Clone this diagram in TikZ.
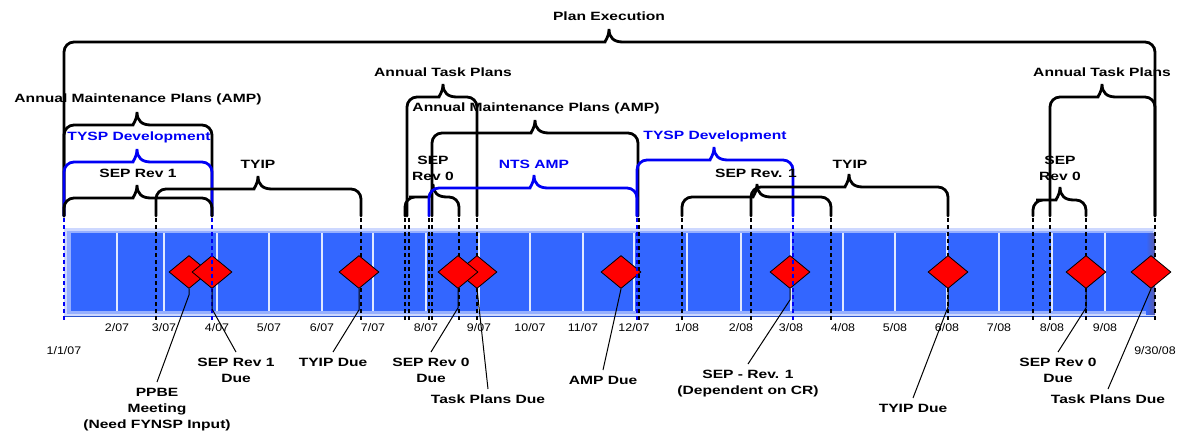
\documentclass[tikz,border=0pt]{standalone}
\usepackage{fontspec}
\setmainfont{Liberation Sans}
\newfontfamily\lblfont[FakeStretch=1.3]{Liberation Sans}
\newfontfamily\monthfont[FakeStretch=1.13]{Liberation Sans}
\usetikzlibrary{shapes.geometric}
\definecolor{tlblue}{RGB}{0,0,245}
\definecolor{barblue}{RGB}{51,102,255}
\definecolor{barrim}{RGB}{205,216,255}
\definecolor{barmid}{RGB}{150,175,255}
\tikzset{
  bracepath/.style={line width=2.8pt, line cap=round},
  dashmark/.style={dash pattern=on 4pt off 3pt, line width=1.1pt},
  monthline/.style={draw=white!85!barblue, line width=1.3pt},
  mstone/.style={diamond, draw, fill=red, line width=0.8pt, minimum width=40pt, minimum height=33pt, inner sep=0pt},
  callline/.style={line width=1pt},
  callout/.style={font=\lblfont\bfseries\fontsize{12}{16}\selectfont, align=center, anchor=north, inner ysep=6pt, inner xsep=1pt},
  toplabel/.style={font=\lblfont\bfseries\fontsize{12}{16}\selectfont, align=center, inner sep=0pt},
  monthlabel/.style={font=\monthfont\fontsize{11}{13}\selectfont, inner sep=0pt},
}
\newcommand{\tlbrace}[5][black]{%
\draw[bracepath, #1] (#2,216) [rounded corners=10pt] -- (#2,#4) -- (#5-14,#4) [sharp corners]
  .. controls (#5-5,#4) and (#5,#4-4) .. (#5,#4-13)
  .. controls (#5,#4-4) and (#5+5,#4) .. (#5+14,#4) [rounded corners=10pt] -- (#3,#4) -- (#3,216);}
\begin{document}
\begin{tikzpicture}[x=1pt, y=-1pt]
\useasboundingbox (0,0) rectangle (1180,437);
\fill[barrim] (64,228) rectangle (1155,316);
\fill[barmid] (67,231) rectangle (1153,314);
\fill[barblue] (71,233) rectangle (1150,311);
\shade[left color=barblue, right color=blue!30!gray] (1146,233) rectangle (1155,314);
\draw[barblue!80!black, line width=1pt] (64,316) -- (1155,316);
\draw[monthline] (117,233) -- (117,311);
\draw[monthline] (164,233) -- (164,311);
\draw[monthline] (217,233) -- (217,311);
\draw[monthline] (269,233) -- (269,311);
\draw[monthline] (322,233) -- (322,311);
\draw[monthline] (373,233) -- (373,311);
\draw[monthline] (426,233) -- (426,311);
\draw[monthline] (479,233) -- (479,311);
\draw[monthline] (530,233) -- (530,311);
\draw[monthline] (583,233) -- (583,311);
\draw[monthline] (634,233) -- (634,311);
\draw[monthline] (687,233) -- (687,311);
\draw[monthline] (741,233) -- (741,311);
\draw[monthline] (791,233) -- (791,311);
\draw[monthline] (843,233) -- (843,311);
\draw[monthline] (895,233) -- (895,311);
\draw[monthline] (947,233) -- (947,311);
\draw[monthline] (999,233) -- (999,311);
\draw[monthline] (1052,233) -- (1052,311);
\draw[monthline] (1105,233) -- (1105,311);
\node[monthlabel] (mon0) at (64,351) {1/1/07};
\node[monthlabel] (mon1) at (117,328) {2/07};
\node[monthlabel] (mon2) at (164,328) {3/07};
\node[monthlabel] (mon3) at (217,328) {4/07};
\node[monthlabel] (mon4) at (269,328) {5/07};
\node[monthlabel] (mon5) at (322,328) {6/07};
\node[monthlabel] (mon6) at (373,328) {7/07};
\node[monthlabel] (mon7) at (426,328) {8/07};
\node[monthlabel] (mon8) at (479,328) {9/07};
\node[monthlabel] (mon9) at (530,328) {10/07};
\node[monthlabel] (mon10) at (583,328) {11/07};
\node[monthlabel] (mon11) at (634,328) {12/07};
\node[monthlabel] (mon12) at (687,328) {1/08};
\node[monthlabel] (mon13) at (741,328) {2/08};
\node[monthlabel] (mon14) at (791,328) {3/08};
\node[monthlabel] (mon15) at (843,328) {4/08};
\node[monthlabel] (mon16) at (895,328) {5/08};
\node[monthlabel] (mon17) at (947,328) {6/08};
\node[monthlabel] (mon18) at (999,328) {7/08};
\node[monthlabel] (mon19) at (1052,328) {8/08};
\node[monthlabel] (mon20) at (1105,328) {9/08};
\node[monthlabel] (mon21) at (1155,351) {9/30/08};
\draw[dashmark] (156,218) -- (156,322);
\draw[dashmark] (361,218) -- (361,322);
\draw[dashmark] (405,218) -- (405,322);
\draw[dashmark] (409,218) -- (409,322);
\draw[dashmark] (429,218) -- (429,322);
\draw[dashmark] (432,218) -- (432,322);
\draw[dashmark] (459,218) -- (459,322);
\draw[dashmark] (477,218) -- (477,322);
\draw[dashmark] (639,218) -- (639,322);
\draw[dashmark] (682,218) -- (682,322);
\draw[dashmark] (751,218) -- (751,322);
\draw[dashmark] (831,218) -- (831,322);
\draw[dashmark] (948,218) -- (948,322);
\draw[dashmark] (1033,218) -- (1033,322);
\draw[dashmark] (1050,218) -- (1050,322);
\draw[dashmark] (1086,218) -- (1086,322);
\draw[dashmark] (1155,218) -- (1155,322);
\node[mstone] (ms0) at (189,272){};
\node[mstone] (ms1) at (212,272){};
\node[mstone] (ms2) at (359,272){};
\node[mstone] (ms4) at (477,272){};
\node[mstone] (ms3) at (458,272){};
\node[mstone] (ms5) at (621,272){};
\node[mstone] (ms6) at (790,272){};
\node[mstone] (ms7) at (948,272){};
\node[mstone] (ms8) at (1086,272){};
\node[mstone] (ms9) at (1151,272){};
\draw[dashmark, tlblue] (64,218) -- (64,322);
\draw[dashmark, tlblue] (212,218) -- (212,322);
\draw[dashmark, tlblue] (637,218) -- (637,322);
\draw[dashmark, tlblue] (793,218) -- (793,322);
\node[callout] (due0) at (157,382) {PPBE\\Meeting\\(Need FYNSP Input)};
\node[callout] (due1) at (236,352) {SEP Rev 1\\Due};
\node[callout] (due2) at (333,352) {TYIP Due};
\node[callout] (due3) at (431,352) {SEP Rev 0\\Due};
\node[callout] (due4) at (488,389) {Task Plans Due};
\node[callout] (due5) at (603,370) {AMP Due};
\node[callout] (due6) at (748,364) {SEP - Rev. 1\\(Dependent on CR)};
\node[callout] (due7) at (913,398) {TYIP Due};
\node[callout] (due8) at (1058,352) {SEP Rev 0\\Due};
\node[callout] (due9) at (1108,389) {Task Plans Due};
\draw[callline] (ms0.south) -- ++(0,6) -- (due0.north);
\draw[callline] (ms1.south) -- ++(0,20) -- (due1.north);
\draw[callline] (ms2.south) -- ++(0,21) -- (due2.north);
\draw[callline] (ms3.south) -- ++(0,19) -- (due3.north);
\draw[callline] (ms4.south) -- (due4.north);
\draw[callline] (ms5.south) -- (due5.north);
\draw[callline] (ms6.south) -- ++(0,11) -- (due6.north);
\draw[callline] (ms7.south) -- ++(0,18) -- (due7.north);
\draw[callline] (ms8.south) -- ++(0,19) -- (due8.north);
\draw[callline] (ms9.south) -- (due9.north);
\tlbrace{64}{1155}{42}{609}
\tlbrace{64}{212}{125}{137}
\tlbrace[tlblue]{64}{212}{162}{137}
\tlbrace{64}{212}{198}{137}
\tlbrace{156}{361}{189}{258}
\tlbrace{407}{477}{97}{443}
\tlbrace{432}{638}{133}{535}
\tlbrace{405}{459}{197}{433}
\tlbrace[tlblue]{429}{637}{188}{534}
\tlbrace[tlblue]{637}{793}{160}{714}
\tlbrace{682}{831}{197}{757}
\tlbrace{751}{948}{187}{849}
\tlbrace{1033}{1086}{200}{1060}
\tlbrace{1050}{1155}{97}{1102}
\node[toplabel] (lab0) at (609,16) {Plan Execution};
\node[toplabel] (lab1) at (138,99) {Annual Maintenance Plans (AMP)};
\node[toplabel, tlblue] (lab2) at (139,137) {TYSP Development};
\node[toplabel] (lab3) at (138,173) {SEP Rev 1};
\node[toplabel] (lab4) at (258,164) {TYIP};
\node[toplabel] (lab5) at (443,72) {Annual Task Plans};
\node[toplabel] (lab6) at (536,108) {Annual Maintenance Plans (AMP)};
\node[toplabel] (lab7) at (433,168) {SEP\\Rev 0};
\node[toplabel, tlblue] (lab8) at (534,164) {NTS AMP};
\node[toplabel, tlblue] (lab9) at (715,136) {TYSP Development};
\node[toplabel] (lab10) at (756,173) {SEP Rev. 1};
\node[toplabel] (lab11) at (850,164) {TYIP};
\node[toplabel] (lab12) at (1060,168) {SEP\\Rev 0};
\node[toplabel] (lab13) at (1102,72) {Annual Task Plans};
\end{tikzpicture}
\end{document}
